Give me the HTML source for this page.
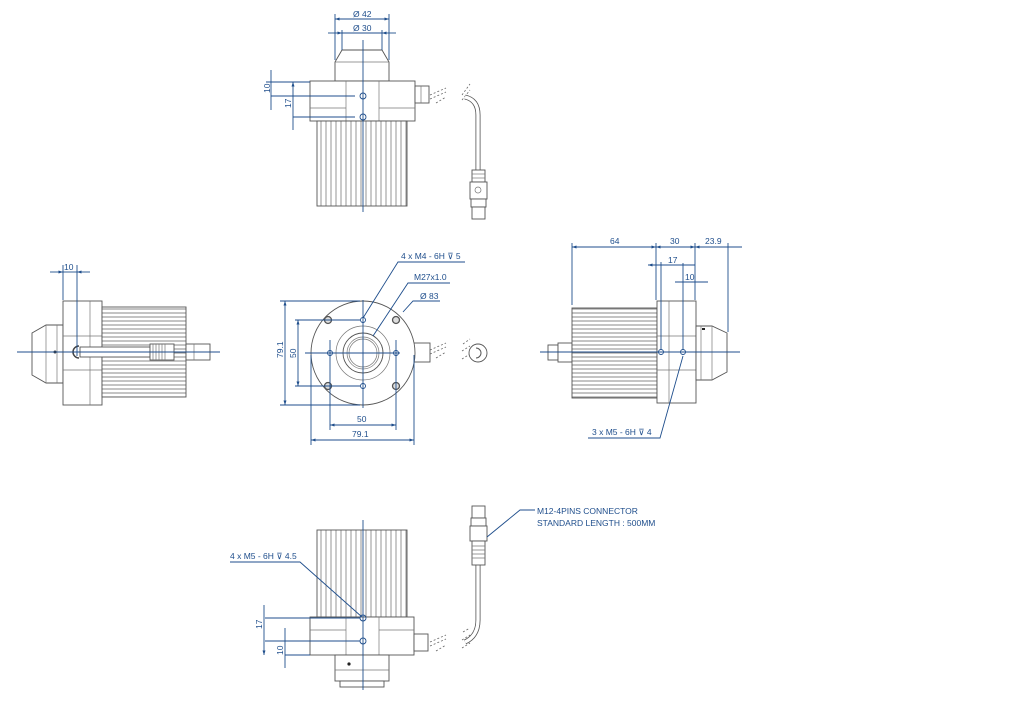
<!DOCTYPE html>
<html><head><meta charset="utf-8"><style>
html,body{margin:0;padding:0;background:#fff;}
svg{display:block;}
text{font-family:"Liberation Sans","DejaVu Sans",sans-serif;font-size:8.5px;fill:#1f4e8c;}
.g{stroke:#555;stroke-width:0.9;fill:#fff;}
.gl{stroke:#777;stroke-width:0.7;fill:none;}
.b{stroke:#1f4e8c;stroke-width:0.9;fill:none;}
.d{stroke:#666;stroke-width:0.8;fill:none;stroke-dasharray:2 2;}
</style></head><body>
<svg width="1024" height="719" viewBox="0 0 1024 719" xmlns="http://www.w3.org/2000/svg">
<defs>
<marker id="a" viewBox="0 0 6 6" refX="6" refY="3" markerWidth="5" markerHeight="5" orient="auto-start-reverse"><path d="M0,1 L6,3 L0,5 z" fill="#1f4e8c"/></marker>
<pattern id="vf" width="5" height="10" patternUnits="userSpaceOnUse"><rect width="5" height="10" fill="#fff"/><line x1="1" y1="0" x2="1" y2="10" stroke="#666" stroke-width="0.7"/></pattern>
<pattern id="hf" width="10" height="4" patternUnits="userSpaceOnUse"><rect width="10" height="4" fill="#fff"/><line x1="0" y1="1" x2="10" y2="1" stroke="#555" stroke-width="0.7"/></pattern>
</defs>

<!-- ===== TOP VIEW ===== -->
<path class="g" d="M342,50 L382,50 L389,62 L389,81 L335,81 L335,62 Z"/>
<line class="gl" x1="335" y1="62" x2="389" y2="62"/>
<rect class="g" x="310" y="81" width="105" height="40"/>
<line class="gl" x1="346" y1="81" x2="346" y2="121"/><line class="gl" x1="379" y1="81" x2="379" y2="121"/>
<line class="gl" x1="310" y1="108" x2="346" y2="108"/><line class="gl" x1="379" y1="108" x2="415" y2="108"/>
<rect x="317" y="121" width="90" height="85" fill="url(#vf)" stroke="#555" stroke-width="0.9"/>
<rect class="g" x="415" y="86" width="14" height="17"/>
<line class="gl" x1="421" y1="86" x2="421" y2="103"/>
<circle class="b" cx="363" cy="96" r="3"/><circle class="b" cx="363" cy="117" r="3"/>
<line class="b" x1="363" y1="40" x2="363" y2="212"/>
<line class="b" x1="335" y1="14" x2="335" y2="60"/><line class="b" x1="389" y1="14" x2="389" y2="60"/>
<line class="b" x1="335" y1="19" x2="389" y2="19" marker-start="url(#a)" marker-end="url(#a)"/>
<text x="353" y="17">Ø 42</text>
<line class="b" x1="342" y1="30" x2="342" y2="50"/><line class="b" x1="382" y1="30" x2="382" y2="50"/>
<line class="b" x1="328" y1="33" x2="342" y2="33" marker-end="url(#a)"/><line class="b" x1="396" y1="33" x2="382" y2="33" marker-end="url(#a)"/>
<line class="b" x1="342" y1="33" x2="382" y2="33"/>
<text x="353" y="31">Ø 30</text>
<line class="b" x1="271" y1="70" x2="271" y2="110"/>
<line class="b" x1="266" y1="82" x2="310" y2="82"/><line class="b" x1="271" y1="96" x2="355" y2="96"/>
<line class="b" x1="293" y1="82" x2="293" y2="130" marker-start="url(#a)"/>
<line class="b" x1="293" y1="117" x2="355" y2="117"/>
<text transform="translate(270,93) rotate(-90)">10</text>
<text transform="translate(291,108) rotate(-90)">17</text>
<path class="d" d="M430,95 L446,88 M430,99 L446,92 M436,103 L446,97"/>
<path class="d" d="M462,95 L470,84 M462,100 L470,90"/>
<path d="M465,97 Q478,100 478,115 L478,170" stroke="#555" stroke-width="5" fill="none"/>
<path d="M465,97 Q478,100 478,115 L478,170" stroke="#fff" stroke-width="3.4" fill="none"/>
<rect class="g" x="472" y="170" width="13" height="12"/>
<line class="gl" x1="472" y1="174" x2="485" y2="174"/><line class="gl" x1="472" y1="178" x2="485" y2="178"/>
<rect class="g" x="470" y="182" width="17" height="17"/><circle class="gl" cx="478" cy="190" r="3"/>
<rect class="g" x="471" y="199" width="15" height="8"/>
<rect class="g" x="472" y="207" width="13" height="12"/>

<!-- ===== LEFT VIEW ===== -->
<path class="g" d="M32,333 L46,325 L63,325 L63,383 L46,383 L32,375 Z"/>
<line class="gl" x1="46" y1="325" x2="46" y2="383"/><line class="gl" x1="57" y1="325" x2="57" y2="383"/>
<circle cx="55" cy="352" r="1.5" fill="#333"/>
<rect class="g" x="63" y="301" width="39" height="104"/>
<line class="gl" x1="90" y1="301" x2="90" y2="405"/>
<line class="gl" x1="63" y1="336" x2="102" y2="336"/><line class="gl" x1="63" y1="370" x2="102" y2="370"/>
<rect x="102" y="307" width="84" height="90" fill="url(#hf)" stroke="#555" stroke-width="0.9"/>
<rect class="g" x="80" y="347" width="70" height="10"/>
<rect class="g" x="150" y="344" width="24" height="16"/>
<path class="gl" d="M153,344v16M156,344v16M159,344v16M162,344v16M165,344v16"/>
<rect class="g" x="186" y="344" width="24" height="16"/><line class="gl" x1="194" y1="344" x2="194" y2="360"/>
<path d="M79,346 A6,6 0 1,0 79,358" stroke="#444" stroke-width="1.5" fill="none"/>
<line class="b" x1="17" y1="352" x2="220" y2="352"/>
<line class="b" x1="63" y1="265" x2="63" y2="300"/><line class="b" x1="77" y1="265" x2="77" y2="356"/>
<line class="b" x1="50" y1="272" x2="63" y2="272" marker-end="url(#a)"/><line class="b" x1="90" y1="272" x2="77" y2="272" marker-end="url(#a)"/>
<line class="b" x1="63" y1="272" x2="77" y2="272"/>
<text x="64" y="270">10</text>

<!-- ===== FRONT VIEW ===== -->
<rect class="g" x="414" y="343" width="16" height="19"/>
<circle class="g" cx="363" cy="353" r="52"/>
<circle class="gl" cx="363" cy="353" r="27"/>
<circle class="g" cx="363" cy="353" r="20" stroke-width="1.4"/>
<circle class="gl" cx="363" cy="353" r="16"/>
<circle class="gl" cx="363" cy="353" r="14"/>
<g stroke="#555" stroke-width="1.3" fill="#ddd">
<circle cx="328" cy="320" r="3.5"/><circle cx="396" cy="320" r="3.5"/><circle cx="328" cy="386" r="3.5"/><circle cx="396" cy="386" r="3.5"/>
</g>
<g class="b"><circle cx="363" cy="320" r="2.5"/><circle cx="363" cy="386" r="2.5"/><circle cx="330" cy="353" r="2.5"/><circle cx="396" cy="353" r="2.5"/></g>
<line class="b" x1="305" y1="353" x2="400" y2="353"/>
<line class="b" x1="363" y1="300" x2="363" y2="408"/>
<line class="b" x1="330" y1="340" x2="330" y2="430"/><line class="b" x1="396" y1="340" x2="396" y2="430"/>
<line class="b" x1="311" y1="355" x2="311" y2="445"/><line class="b" x1="414" y1="355" x2="414" y2="445"/>
<line class="b" x1="280" y1="301" x2="360" y2="301"/><line class="b" x1="280" y1="405" x2="360" y2="405"/>
<line class="b" x1="295" y1="320" x2="360" y2="320"/><line class="b" x1="295" y1="386" x2="360" y2="386"/>
<line class="b" x1="285" y1="301" x2="285" y2="405" marker-start="url(#a)" marker-end="url(#a)"/>
<line class="b" x1="298" y1="320" x2="298" y2="386" marker-start="url(#a)" marker-end="url(#a)"/>
<line class="b" x1="330" y1="425" x2="396" y2="425" marker-start="url(#a)" marker-end="url(#a)"/>
<line class="b" x1="311" y1="440" x2="414" y2="440" marker-start="url(#a)" marker-end="url(#a)"/>
<text transform="translate(283,358) rotate(-90)">79.1</text>
<text transform="translate(296,358) rotate(-90)">50</text>
<text x="357" y="422">50</text><text x="352" y="437">79.1</text>
<polyline class="b" points="465,262 398,262 363,318"/>
<text x="401" y="259">4 x M4 - 6H ⊽ 5</text>
<polyline class="b" points="450,283 408,283 373,336"/>
<text x="414" y="280">M27x1.0</text>
<polyline class="b" points="440,301 413,301 403,312"/>
<text x="420" y="299">Ø 83</text>
<path class="d" d="M430,350 L446,343 M430,354 L446,347 M436,358 L446,352"/>
<path class="d" d="M463,344 L470,339 M462,351 L470,346 M462,359 L470,354"/>
<circle class="g" cx="478" cy="353" r="9" stroke-width="1.3"/>
<path d="M476,348 A5,5 0 1,1 476,358" stroke="#555" stroke-width="1" fill="none"/>

<!-- ===== RIGHT VIEW ===== -->
<rect class="g" x="548" y="345" width="10" height="15"/><rect class="g" x="558" y="343" width="14" height="19"/>
<rect x="572" y="308" width="85" height="90" fill="url(#hf)" stroke="#555" stroke-width="0.9"/>
<rect class="g" x="657" y="301" width="39" height="102"/>
<line class="gl" x1="669" y1="301" x2="669" y2="403"/>
<line class="gl" x1="657" y1="336" x2="696" y2="336"/><line class="gl" x1="657" y1="370" x2="696" y2="370"/>
<path class="g" d="M696,326 L712,326 L727,333 L727,372 L712,380 L696,380 Z"/>
<line class="gl" x1="701" y1="326" x2="701" y2="380"/><line class="gl" x1="712" y1="326" x2="712" y2="380"/>
<rect x="702" y="328" width="3" height="2" fill="#222"/>
<circle class="b" cx="661" cy="352" r="2.5"/><circle class="b" cx="683" cy="352" r="2.5"/>
<line class="b" x1="540" y1="352" x2="740" y2="352"/>
<line class="b" x1="572" y1="243" x2="572" y2="305"/><line class="b" x1="656" y1="243" x2="656" y2="300"/>
<line class="b" x1="695" y1="243" x2="695" y2="300"/><line class="b" x1="728" y1="243" x2="728" y2="332"/>
<line class="b" x1="661" y1="262" x2="661" y2="350"/><line class="b" x1="683" y1="263" x2="683" y2="350"/>
<line class="b" x1="572" y1="247" x2="656" y2="247" marker-start="url(#a)" marker-end="url(#a)"/>
<line class="b" x1="656" y1="247" x2="695" y2="247" marker-start="url(#a)" marker-end="url(#a)"/>
<line class="b" x1="695" y1="247" x2="742" y2="247" marker-start="url(#a)"/>
<line class="b" x1="648" y1="265" x2="695" y2="265" marker-start="url(#a)"/>
<line class="b" x1="675" y1="282" x2="708" y2="282"/>
<text x="610" y="244">64</text><text x="670" y="244">30</text><text x="705" y="244">23.9</text>
<text x="668" y="263">17</text><text x="685" y="280">10</text>
<polyline class="b" points="588,438 660,438 683,356"/>
<text x="592" y="435">3 x M5 - 6H ⊽ 4</text>

<!-- ===== BOTTOM VIEW ===== -->
<rect x="317" y="530" width="90" height="87" fill="url(#vf)" stroke="#555" stroke-width="0.9"/>
<rect class="g" x="310" y="617" width="104" height="38"/>
<line class="gl" x1="346" y1="617" x2="346" y2="655"/><line class="gl" x1="379" y1="617" x2="379" y2="655"/>
<line class="gl" x1="310" y1="630" x2="346" y2="630"/><line class="gl" x1="379" y1="630" x2="414" y2="630"/>
<rect class="g" x="335" y="655" width="54" height="26"/>
<line class="gl" x1="335" y1="670" x2="389" y2="670"/>
<rect class="g" x="340" y="681" width="44" height="6"/>
<circle cx="349" cy="664" r="1.6" fill="#222"/>
<rect class="g" x="414" y="634" width="14" height="17"/>
<circle class="b" cx="363" cy="618" r="3"/><circle class="b" cx="363" cy="641" r="3"/>
<line class="b" x1="363" y1="520" x2="363" y2="690"/>
<line class="b" x1="265" y1="618" x2="360" y2="618"/><line class="b" x1="265" y1="641" x2="360" y2="641"/>
<line class="b" x1="285" y1="655" x2="310" y2="655"/>
<line class="b" x1="264" y1="605" x2="264" y2="655" marker-end="url(#a)"/>
<line class="b" x1="285" y1="628" x2="285" y2="668"/>
<text transform="translate(262,629) rotate(-90)">17</text>
<text transform="translate(283,655) rotate(-90)">10</text>
<polyline class="b" points="230,562 300,562 362,617"/>
<text x="230" y="559">4 x M5 - 6H ⊽ 4.5</text>
<path class="d" d="M430,642 L446,635 M430,646 L446,639 M436,651 L446,645"/>
<path class="d" d="M463,632 L470,628 M462,640 L470,635 M462,648 L470,643"/>
<path d="M478,565 L478,620 Q478,636 465,642" stroke="#555" stroke-width="5" fill="none"/>
<path d="M478,565 L478,620 Q478,636 465,642" stroke="#fff" stroke-width="3.4" fill="none"/>
<rect class="g" x="472" y="506" width="13" height="12"/>
<rect class="g" x="471" y="518" width="15" height="8"/>
<rect class="g" x="470" y="526" width="17" height="15"/>
<rect class="g" x="472" y="541" width="13" height="24"/>
<path class="gl" d="M472,546h13M472,550h13M472,554h13M472,558h13"/>
<polyline class="b" points="535,510 520,510 487,537"/>
<text x="537" y="514">M12-4PINS CONNECTOR</text>
<text x="537" y="526">STANDARD LENGTH : 500MM</text>
</svg>
</body></html>
